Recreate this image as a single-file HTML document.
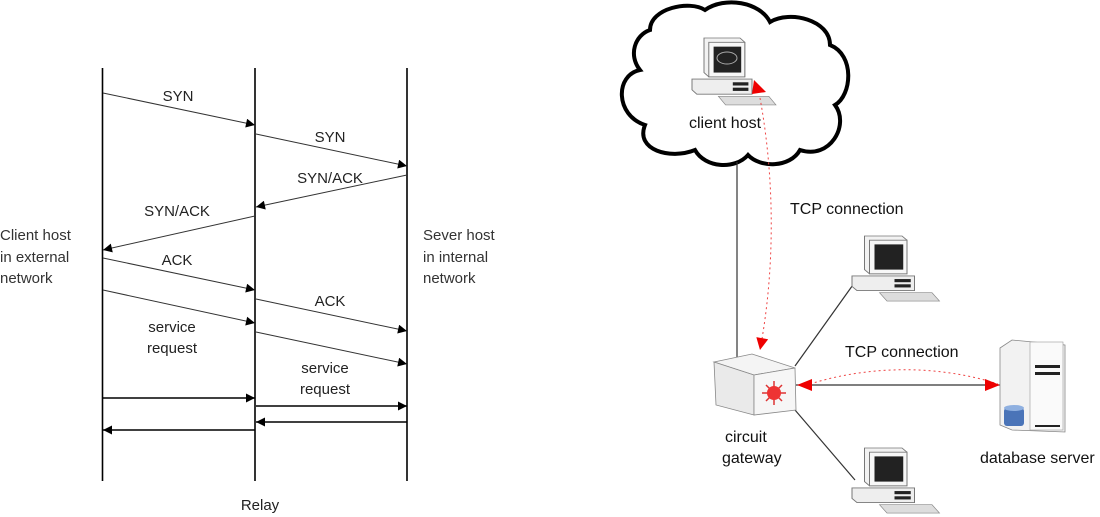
<!DOCTYPE html>
<html><head><meta charset="utf-8"><style>
html,body{margin:0;padding:0;background:#fff;}
svg{display:block;font-family:"Liberation Sans",Arial,sans-serif;}
</style></head><body>
<svg width="1100" height="517" viewBox="0 0 1100 517" xmlns="http://www.w3.org/2000/svg">
<defs>
<marker id="ah" viewBox="0 0 10 10" refX="10" refY="5" markerWidth="13" markerHeight="9" markerUnits="userSpaceOnUse" orient="auto"><path d="M0,0 L10,5 L0,10 z" fill="#000"/></marker>
<marker id="rh" viewBox="0 0 10 10" refX="10" refY="5" markerWidth="14" markerHeight="12" markerUnits="userSpaceOnUse" orient="auto"><path d="M0,0 L10,5 L0,10 z" fill="#e00"/></marker>
<g id="pc">
<path d="M10,0 L40,0 L44,4 L44,36 L14,36 L10,32 z" fill="#f2f2f2" stroke="#777" stroke-width="0.8"/>
<rect x="14" y="4" width="30" height="32" fill="#f7f7f7" stroke="#777" stroke-width="0.8"/>
<rect x="18" y="8" width="23" height="24" fill="#222"/>
<path d="M0,38 L50,38 L50,52 L4,52 L0,48 z" fill="#eee" stroke="#777" stroke-width="0.8"/>
<rect x="34" y="41" width="13" height="3" fill="#222"/>
<rect x="34" y="46" width="13" height="3" fill="#222"/>
<path d="M22,54 L64,54 L70,62 L28,62 z" fill="#ddd" stroke="#888" stroke-width="0.6"/>
</g>
</defs>
<g stroke="#000" stroke-width="1.6" fill="none">
<line x1="102.5" y1="68" x2="102.5" y2="481"/>
<line x1="255" y1="68" x2="255" y2="481"/>
<line x1="407" y1="68" x2="407" y2="481"/>
</g>
<g stroke="#333" stroke-width="1" fill="none" marker-end="url(#ah)">
<line x1="103" y1="93" x2="255" y2="125"/>
<line x1="256" y1="134" x2="407" y2="166"/>
<line x1="407" y1="175" x2="256" y2="207"/>
<line x1="255" y1="216" x2="103" y2="250"/>
<line x1="103" y1="258" x2="255" y2="290"/>
<line x1="103" y1="290" x2="255" y2="323"/>
<line x1="256" y1="299" x2="407" y2="331"/>
<line x1="256" y1="332" x2="407" y2="364"/>
</g>
<g stroke="#000" stroke-width="1.6" fill="none" marker-end="url(#ah)">
<line x1="103" y1="398" x2="255" y2="398"/>
<line x1="256" y1="406" x2="407" y2="406"/>
<line x1="407" y1="422" x2="256" y2="422"/>
<line x1="255" y1="430" x2="103" y2="430"/>
</g>
<g font-size="15" fill="#222" text-anchor="middle">
<text x="178" y="101">SYN</text>
<text x="330" y="142">SYN</text>
<text x="330" y="183">SYN/ACK</text>
<text x="177" y="216">SYN/ACK</text>
<text x="177" y="265">ACK</text>
<text x="330" y="306">ACK</text>
<text x="172" y="332">service</text>
<text x="172" y="353">request</text>
<text x="325" y="373">service</text>
<text x="325" y="394">request</text>
<text x="260" y="510">Relay</text>
</g>
<g font-size="15" fill="#333">
<text x="0" y="240">Client host</text>
<text x="0" y="262">in external</text>
<text x="0" y="283">network</text>
<text x="423" y="240">Sever host</text>
<text x="423" y="262">in internal</text>
<text x="423" y="283">network</text>
</g>
<!-- cloud -->
<path d="M650,30 C650,8 690,0 705,10 C725,-4 760,2 770,22 C790,10 830,20 830,45 C855,55 852,95 835,105 C850,125 830,160 800,150 C790,168 760,168 748,155 C735,170 705,168 695,150 C670,160 635,150 645,125 C615,115 615,75 640,70 C628,55 635,35 650,30 z" fill="#fff" stroke="#000" stroke-width="4"/>
<use href="#pc" transform="translate(692,38) scale(1.2,1.08)"/>
<ellipse cx="727" cy="58" rx="10" ry="6" fill="none" stroke="#aaa" stroke-width="1"/>
<g font-size="16" fill="#111">
<text x="689" y="128">client host</text>
<text x="790" y="214">TCP connection</text>
<text x="845" y="357">TCP connection</text>
<text x="725" y="442">circuit</text>
<text x="722" y="463">gateway</text>
<text x="980" y="463">database server</text>
</g>
<line x1="737" y1="162" x2="737" y2="358" stroke="#333" stroke-width="1.2"/>
<path d="M760,98 C775,180 775,270 760,350" fill="none" stroke="#e44" stroke-width="1" stroke-dasharray="2,3" marker-end="url(#rh)"/>
<path d="M754,80 L766,92 L752,94 z" fill="#e00"/>
<line x1="795" y1="366" x2="855" y2="282" stroke="#333" stroke-width="1.2"/>
<line x1="795" y1="410" x2="855" y2="480" stroke="#333" stroke-width="1.2"/>
<line x1="796" y1="385" x2="1000" y2="385" stroke="#333" stroke-width="1.2"/>
<path d="M810,384 C870,365 940,365 998,384" fill="none" stroke="#e44" stroke-width="1" stroke-dasharray="2,3"/>
<path d="M797,385 L812,379 L812,391 z" fill="#e00"/>
<path d="M1000,385 L985,379 L985,391 z" fill="#e00"/>
<use href="#pc" transform="translate(852,236) scale(1.25,1.05)"/>
<use href="#pc" transform="translate(852,448) scale(1.25,1.05)"/>
<!-- gateway -->
<path d="M714,362 L752,354 L795,368 L754,375 z" fill="#f4f4f4" stroke="#888" stroke-width="0.8"/>
<path d="M714,362 L754,375 L754,415 L716,405 z" fill="#eaeaea" stroke="#888" stroke-width="0.8"/>
<path d="M754,375 L795,368 L796,410 L754,415 z" fill="#f6f6f6" stroke="#888" stroke-width="0.8"/>
<g stroke="#d33" stroke-width="1.5">
<line x1="762" y1="393" x2="786" y2="393"/><line x1="774" y1="381" x2="774" y2="405"/>
<line x1="766" y1="385" x2="782" y2="401"/><line x1="782" y1="385" x2="766" y2="401"/>
</g>
<circle cx="774" cy="393" r="7" fill="#e33"/>
<!-- db server -->
<path d="M1000,348 L1012,340 L1065,345 L1065,432 L1012,430 L1000,425 z" fill="#f2f2f2" stroke="#888" stroke-width="0.8"/>
<rect x="1030" y="342" width="33" height="88" fill="#fafafa" stroke="#999" stroke-width="0.6"/>
<rect x="1035" y="365" width="25" height="3" fill="#222"/>
<rect x="1035" y="372" width="25" height="3" fill="#222"/>
<rect x="1035" y="425" width="25" height="2" fill="#222"/>
<rect x="1004" y="408" width="20" height="18" rx="3" fill="#4a74b8"/>
<ellipse cx="1014" cy="408" rx="10" ry="3" fill="#8fb0e0"/>
</svg>
</body></html>
